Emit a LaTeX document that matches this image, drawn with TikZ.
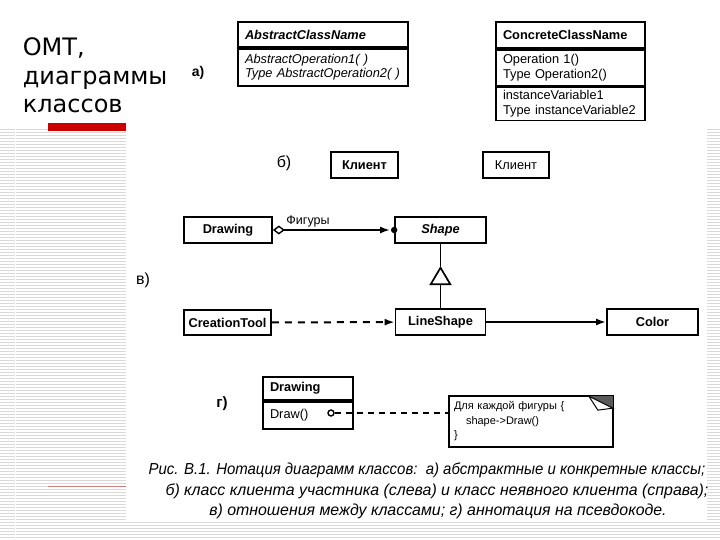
\documentclass[tikz,border=0pt]{standalone}
\usepackage{fontspec}
\setmainfont{Liberation Sans}
\newfontfamily\slidefont{DejaVu Sans}
\usetikzlibrary{arrows.meta}
\newcommand\cfont{\fontsize{12.8}{14.5}\selectfont}

\begin{document}
\begin{tikzpicture}[
    x=1pt, y=-1pt,
    every node/.style={inner sep=0pt},
    line width=1.7pt,
    font=\cfont,
    cls/.style={draw, minimum height=26pt, font=\cfont\bfseries},
    part/.style={draw, align=left, inner xsep=7pt},
    lab/.style={font=\fontsize{16}{18}\selectfont},
    ttl/.style={anchor=base west, font=\slidefont\fontsize{24}{28}\selectfont},
    capline/.style={font=\fontsize{15.9}{18}\selectfont\itshape},
    stripe/.style={gray!30, line width=1pt},
    ]

    % slide background
    \fill[white] (0,0) rectangle (720,540);
    \useasboundingbox (0,0) rectangle (720,540);
    \begin{scope}
    \clip (0,128) rectangle (126,540) (126,522) rectangle (720,540) (707,128) rectangle (720,522);
    \foreach \y in {129.5,132.5,...,540}
        \draw[stripe] (0,\y) -- (720,\y);
    \draw[white, line width=1pt] (15,128) -- (15,540);
    \end{scope}
    \fill[red!80!black] (48,123) rectangle (126,131);
    \draw[red!40!gray!70, line width=0.7pt] (48,486) -- (126,486);

    % title
    \node[ttl] (title1) at (22,56)  {ОМТ,};
    \node[ttl] (title2) at (22,85)  {диаграммы};
    \node[ttl] (title3) at (22,113) {классов};

    % a)
    \node[lab, font=\fontsize{14}{16}\selectfont\bfseries] (la) at (198,73) {а)};
    \node[part, text width=156pt, minimum height=25pt, font=\cfont\bfseries\itshape] (abshead) at (323,34.5) {AbstractClassName};
    \node[part, text width=156pt, minimum height=37pt, font=\cfont\itshape, anchor=north] (absops) at (abshead.south) {AbstractOperation1( )\\Type AbstractOperation2( )};

    \node[part, text width=135pt, minimum height=26pt, font=\cfont\bfseries] (conhead) at (570.5,35) {ConcreteClassName};
    \node[part, text width=135pt, minimum height=36pt, anchor=north] (conops) at (conhead.south) {Operation 1()\\Type Operation2()};
    \node[part, text width=135pt, minimum height=33pt, anchor=north] (convars) at (conops.south) {instanceVariable1\\Type instanceVariable2};

    % b)
    \node[lab] (lb) at (284,163) {б)};
    \node[cls, minimum width=67pt] (client1) at (364.5,165) {Клиент};
    \node[cls, minimum width=66pt, font=\cfont] (client2) at (516,165) {Клиент};

    % c)
    \node[lab] (lc) at (143,280) {в)};
    \node[cls, minimum width=88pt] (drawing) at (228,230) {Drawing};
    \node[cls, minimum width=91pt, font=\cfont\bfseries\itshape] (shape) at (440.5,230) {Shape};
    \node[cls, minimum width=87pt, minimum height=25pt] (creation) at (227.5,322.5) {CreationTool};
    \node[cls, minimum width=90pt] (lineshape) at (440.5,322) {LineShape};
    \node[cls, minimum width=91pt] (color) at (652.5,322) {Color};
    \coordinate (apex) at (440.5,266);

    % edges
    \draw[{Diamond[open,length=12pt,width=9pt,line width=1.4pt]}-{Latex[length=10pt,width=7pt]}, line width=2pt, shorten >=4pt]
        (drawing) -- node[above, pos=0.29, yshift=2pt, font=\fontsize{12.5}{14}\selectfont] {Фигуры} (shape);
    \fill (shape.west) circle (3.2pt);
    \draw[-{Triangle[open,length=19pt,width=22pt]}] (lineshape) -- (apex);
    \draw (apex) -- (shape);
    \draw[-{Latex[length=10pt,width=7pt]}, line width=2pt, dash pattern=on 7pt off 6pt] (creation) -- (lineshape);
    \draw[-{Latex[length=10pt,width=7pt]}, line width=2pt] (lineshape) -- (color);

    % d)
    \node[lab, font=\fontsize{15}{17}\selectfont\bfseries] (ld) at (222,404) {г)};
    \node[part, text width=76pt, minimum height=23pt, font=\cfont\bfseries] (drwhead) at (308,388.5) {Drawing};
    \node[part, text width=76pt, minimum height=27pt, anchor=north] (drwops) at (drwhead.south) {Draw()};
    \node[draw, circle, minimum size=6pt, line width=1.4pt] (drawdot) at (331,413) {};
    \node[align=left, inner xsep=4pt, text width=154pt, minimum height=49pt, font=\fontsize{11}{14.5}\selectfont] (note) at (531,421.5)
        {Для каждой фигуры {\{}\\\hspace*{12pt}shape->Draw()\\\}};
    \draw (note.north west) -- (note.north east) -- (note.south east) -- (note.south west) -- cycle;
    \fill[gray!70!black] ([xshift=-24pt]note.north east) -- (note.north east) -- ([yshift=-12pt]note.north east) -- cycle;
    \draw[fill=white, line width=1pt] ([xshift=-24pt]note.north east) -- ([xshift=-15pt,yshift=-14pt]note.north east) -- ([yshift=-12pt]note.north east) -- cycle;
    \draw[dash pattern=on 6pt off 5pt] (drawdot) -- (note.west |- drawdot);

    % caption
    \node[capline, transform shape, xscale=0.94] (cap1) at (427,470) {Рис. В.1. Нотация диаграмм классов:\ \ а) абстрактные и конкретные классы;};
    \node[capline] (cap2) at (437,491) {б) класс клиента участника (слева) и класс неявного клиента (справа);};
    \node[capline] (cap3) at (438,511) {в) отношения между классами; г) аннотация на псевдокоде.};

\end{tikzpicture}
\end{document}
